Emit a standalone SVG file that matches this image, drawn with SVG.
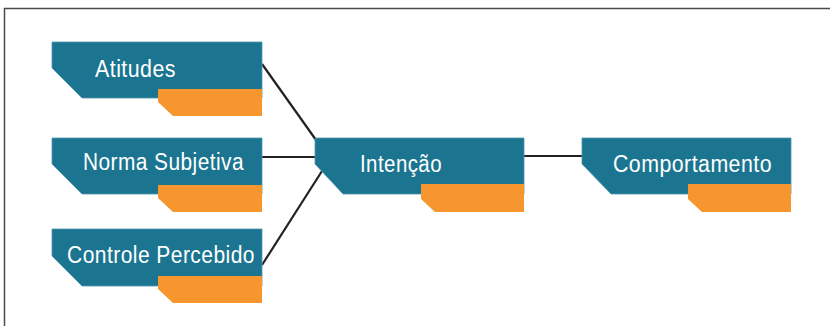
<svg xmlns="http://www.w3.org/2000/svg" width="830" height="326" viewBox="0 0 830 326">
  <defs>
    <style>
      .body { fill: #1b7590; stroke: #4f97ad; stroke-width: 0.8; }
      .tab { fill: #f7952f; }
      .label { fill: #ffffff; font-family: "Liberation Sans", Arial, sans-serif; font-size: 23.5px; letter-spacing: 0.5px; }
      .link { stroke: #222222; stroke-width: 2.2; fill: none; }
      .frame { stroke: #4a4a4a; stroke-width: 1.5; fill: none; }
    </style>
  </defs>

  <rect width="830" height="326" fill="#ffffff"/>
  <path class="frame" d="M4.5 326 V8.5 H830"/>

  <g id="connectors">
    <line class="link" x1="262" y1="64" x2="316" y2="140"/>
    <line class="link" x1="262" y1="157" x2="316" y2="157"/>
    <line class="link" x1="262" y1="265" x2="322" y2="171"/>
    <line class="link" x1="524" y1="156" x2="583" y2="156"/>
  </g>

  <g id="atitudes">
    <polygon class="body" points="52,42 262,42 262,98 82,98 52,68"/>
    <polygon class="tab" points="158,89 262,89 262,116 173,116 158,102"/>
    <text class="label" x="95" y="77" textLength="81" lengthAdjust="spacingAndGlyphs">Atitudes</text>
  </g>

  <g id="norma-subjetiva">
    <polygon class="body" points="52,138 262,138 262,194 82,194 52,164"/>
    <polygon class="tab" points="158,185 262,185 262,212 173,212 158,198"/>
    <text class="label" x="83" y="170" textLength="161" lengthAdjust="spacingAndGlyphs">Norma Subjetiva</text>
  </g>

  <g id="controle-percebido">
    <polygon class="body" points="52,229 262,229 262,286 82,286 52,256"/>
    <polygon class="tab" points="158,276 262,276 262,303 173,303 158,289"/>
    <text class="label" x="67" y="263" textLength="188" lengthAdjust="spacingAndGlyphs">Controle Percebido</text>
  </g>

  <g id="intencao">
    <polygon class="body" points="315,138 524,138 524,194 343,194 315,164"/>
    <polygon class="tab" points="421,184 524,184 524,212 435,212 421,199"/>
    <text class="label" x="360" y="172" textLength="82" lengthAdjust="spacingAndGlyphs">Intenção</text>
  </g>

  <g id="comportamento">
    <polygon class="body" points="582,138 791,138 791,194 611,194 582,164"/>
    <polygon class="tab" points="688,184 791,184 791,212 702,212 688,199"/>
    <text class="label" x="613" y="172" textLength="159" lengthAdjust="spacingAndGlyphs">Comportamento</text>
  </g>
</svg>
